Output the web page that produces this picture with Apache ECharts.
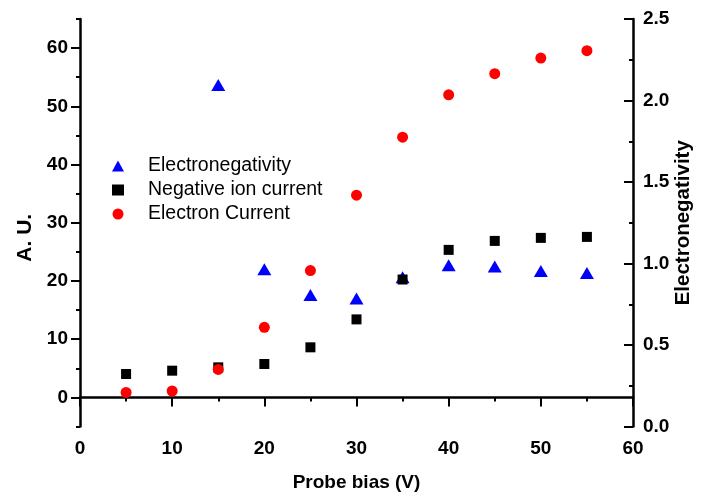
<!DOCTYPE html>
<html><head><meta charset="utf-8">
<script src="https://cdn.jsdelivr.net/npm/echarts@6/dist/echarts.min.js"></script>
<style>html,body{margin:0;padding:0;background:#fff}#c{width:707px;height:499px}</style>
</head><body><div id="c"></div>
<script>
// ---- data ----
const biasV = [5, 10, 15, 20, 25, 30, 35, 40, 45, 50, 55];
const electronegativityBias = [15, 20, 25, 30, 35, 40, 45, 50, 55];
const electronegativity = [2.095, 0.964, 0.806, 0.785, 0.915, 0.99, 0.982, 0.954, 0.942];
const negativeIonCurrent = [4.02, 4.59, 5.16, 5.74, 8.6, 13.4, 20.25, 25.34, 26.88, 27.4, 27.57];
const electronCurrent = [0.86, 1.1, 4.81, 12.03, 21.78, 34.73, 44.7, 51.98, 55.6, 58.28, 59.55];
const leftMajorTicks = [0, 10, 20, 30, 40, 50, 60];
const seriesNames = ['Electronegativity', 'Negative ion current', 'Electron Current'];

const FONT = '"Liberation Sans", Arial, sans-serif';
const lab = {color: '#000', fontFamily: FONT, fontWeight: 'bold', fontSize: 19};
const zip = (xs, ys) => xs.map((x, i) => [x, ys[i]]);

const chart = echarts.init(document.getElementById('c'), null, {renderer: 'canvas'});
chart.setOption({
  backgroundColor: '#fff',
  animation: false,
  grid: {left: 80, right: 74, top: 19, bottom: 72.5, containLabel: false, outerBoundsMode: 'none'},
  legend: {
    orient: 'vertical', left: 112, top: 156, padding: 0, itemGap: 4,
    itemWidth: 12, itemHeight: 11,
    data: seriesNames,
    textStyle: {color: '#000', fontFamily: FONT, fontSize: 19.5, lineHeight: 19, padding: [0, 0, 0, 19]}
  },
  xAxis: {
    type: 'value', min: 0, max: 60, interval: 10,
    name: 'Probe bias (V)', nameLocation: 'middle', nameGap: 47, nameMoveOverlap: false,
    nameTextStyle: lab,
    axisLine: {lineStyle: {color: '#000', width: 2.5}},
    axisTick: {length: 9, lineStyle: {color: '#000', width: 2}},
    minorTick: {show: true, splitNumber: 2, length: 4, lineStyle: {color: '#000', width: 2}},
    axisLabel: Object.assign({margin: 13}, lab),
    splitLine: {show: false}
  },
  yAxis: [
    {
      type: 'value', position: 'left', min: -5, max: 65, interval: 5,
      name: 'A. U.', nameLocation: 'middle', nameGap: 44, nameRotate: 90, nameMoveOverlap: false,
      nameTextStyle: Object.assign({}, lab, {fontSize: 21, padding: [0, 30, 0, 0]}),
      axisLine: {show: true, lineStyle: {color: '#000', width: 2.5}},
      axisTick: {length: 9, lineStyle: {color: '#000', width: 2}, customValues: leftMajorTicks},
      axisLabel: Object.assign({margin: 12, customValues: leftMajorTicks}, lab),
      splitLine: {show: false}
    },
    {
      type: 'value', position: 'right', min: 0, max: 2.5, interval: 0.5,
      name: 'Electronegativity', nameLocation: 'middle', nameGap: 40, nameRotate: 90, nameMoveOverlap: false,
      nameTextStyle: Object.assign({}, lab, {fontSize: 20.5}),
      axisLine: {show: true, lineStyle: {color: '#000', width: 2.5}},
      axisTick: {inside: true, length: 9, lineStyle: {color: '#000', width: 2}},
      minorTick: {show: true, splitNumber: 2, length: 4, lineStyle: {color: '#000', width: 2}},
      axisLabel: Object.assign({margin: 10, formatter: v => v.toFixed(1)}, lab),
      splitLine: {show: false}
    },
    {
      type: 'value', position: 'left', min: -5, max: 65, interval: 5,
      axisLine: {show: false},
      axisTick: {show: true, length: 4, lineStyle: {color: '#000', width: 2}},
      axisLabel: {show: false},
      splitLine: {show: false}
    }
  ],
  series: [
    {
      name: seriesNames[0], type: 'scatter', yAxisIndex: 1,
      symbol: 'triangle', symbolSize: [14, 12],
      itemStyle: {color: '#0000ff', opacity: 1},
      data: zip(electronegativityBias, electronegativity)
    },
    {
      name: seriesNames[1], type: 'scatter', yAxisIndex: 0,
      symbol: 'rect', symbolSize: 10,
      itemStyle: {color: '#000000', opacity: 1},
      data: zip(biasV, negativeIonCurrent)
    },
    {
      name: seriesNames[2], type: 'scatter', yAxisIndex: 0,
      symbol: 'circle', symbolSize: 11,
      itemStyle: {color: '#ff0000', opacity: 1},
      data: zip(biasV, electronCurrent)
    }
  ]
});
</script>
</body></html>
